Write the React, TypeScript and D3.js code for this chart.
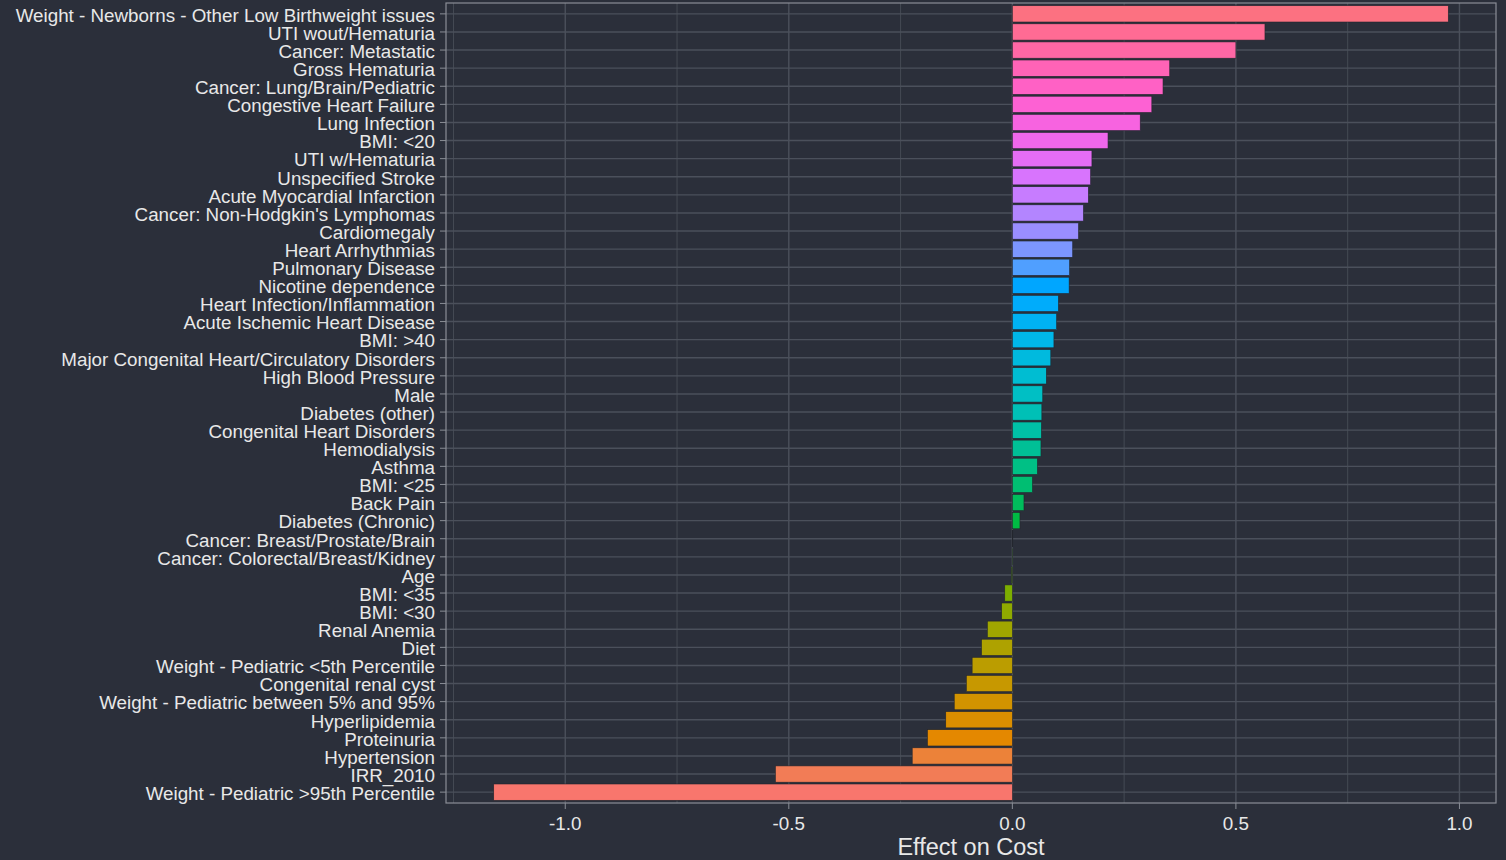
import * as d3 from "d3";

// categories from top to bottom
const categories = [
  "Weight - Newborns - Other Low Birthweight issues",
  "UTI wout/Hematuria",
  "Cancer: Metastatic",
  "Gross Hematuria",
  "Cancer: Lung/Brain/Pediatric",
  "Congestive Heart Failure",
  "Lung Infection",
  "BMI: <20",
  "UTI w/Hematuria",
  "Unspecified Stroke",
  "Acute Myocardial Infarction",
  "Cancer: Non-Hodgkin's Lymphomas",
  "Cardiomegaly",
  "Heart Arrhythmias",
  "Pulmonary Disease",
  "Nicotine dependence",
  "Heart Infection/Inflammation",
  "Acute Ischemic Heart Disease",
  "BMI: >40",
  "Major Congenital Heart/Circulatory Disorders",
  "High Blood Pressure",
  "Male",
  "Diabetes (other)",
  "Congenital Heart Disorders",
  "Hemodialysis",
  "Asthma",
  "BMI: <25",
  "Back Pain",
  "Diabetes (Chronic)",
  "Cancer: Breast/Prostate/Brain",
  "Cancer: Colorectal/Breast/Kidney",
  "Age",
  "BMI: <35",
  "BMI: <30",
  "Renal Anemia",
  "Diet",
  "Weight - Pediatric <5th Percentile",
  "Congenital renal cyst",
  "Weight - Pediatric between 5% and 95%",
  "Hyperlipidemia",
  "Proteinuria",
  "Hypertension",
  "IRR_2010",
  "Weight - Pediatric >95th Percentile",
];

const effects = [
  0.975, 0.565, 0.5, 0.352, 0.337, 0.312, 0.286, 0.214, 0.178, 0.175, 0.17,
  0.159, 0.148, 0.135, 0.128, 0.127, 0.103, 0.099, 0.093, 0.086, 0.076, 0.068,
  0.066, 0.065, 0.064, 0.056, 0.045, 0.026, 0.017, 0.001, 0.0005, -0.002,
  -0.017, -0.024, -0.056, -0.069, -0.09, -0.103, -0.13, -0.149, -0.19, -0.224,
  -0.53, -1.16,
];

const xTicks = [-1.0, -0.5, 0.0, 0.5, 1.0];
const xMinor = [-1.25, -0.75, -0.25, 0.25, 0.75];

// R's hcl() (polar LUV) -> hex, like ggplot's hue palette
function hclLuv(h: number, c: number, l: number): string {
  const XN = 95.047, YN = 100.0, ZN = 108.883;
  const hr = (h * Math.PI) / 180;
  const U = c * Math.cos(hr);
  const V = c * Math.sin(hr);
  const Y = YN * (l > 7.999592 ? Math.pow((l + 16) / 116, 3) : l / 903.3);
  const t = XN + YN + ZN;
  const x = XN / t, y = YN / t;
  const uN = (2 * x) / (6 * y - x + 1.5);
  const vN = (4.5 * y) / (6 * y - x + 1.5);
  const u = U / (13 * l) + uN;
  const v = V / (13 * l) + vN;
  const X = (9.0 * Y * u) / (4 * v);
  const Z = -X / 3 - 5 * Y + (3 * Y) / v;
  const g = (q: number) => (q > 0.00304 ? 1.055 * Math.pow(q, 1 / 2.4) - 0.055 : 12.92 * q);
  const r = g((3.240479 * X - 1.53715 * Y - 0.498535 * Z) / YN);
  const gg = g((-0.969256 * X + 1.875992 * Y + 0.041556 * Z) / YN);
  const b = g((0.055648 * X - 0.204043 * Y + 1.057311 * Z) / YN);
  const cl = (q: number) => Math.round(Math.max(0, Math.min(1, q)) * 255);
  return d3.rgb(cl(r), cl(gg), cl(b)).formatHex();
}

const W = 1506;
const H = 860;
const BG = "#2b2f3a";
const GRID = "#4b505b";
const TEXT = "#e8e8e8";
const FONT = "'Liberation Sans', Arial, sans-serif";

export default function App() {
  const left = 446, right = 1496, top = 3, bottom = 803;
  const n = categories.length;

  const lo = d3.min(effects)!;
  const hi = d3.max(effects)!;
  const pad = (hi - lo) * 0.05;
  const x = d3.scaleLinear().domain([lo - pad, hi + pad]).range([left, right]);
  const y = d3.scalePoint<string>().domain(categories).range([top, bottom]).padding(0.6);
  const barH = y.step() * 0.9;

  // fill mapped to factor level order (bottom level first)
  const hues = d3.range(n).map((i) => 15 + (i * 360) / n);
  const colorOf = (i: number) => hclLuv(hues[n - 1 - i], 100, 65);

  return (
    <div style={{ position: "fixed", left: 0, top: 0 }}>
      <svg width={W} height={H} style={{ display: "block", background: BG }} fontFamily={FONT}>
        <rect x={0} y={0} width={W} height={H} fill={BG} />
        {/* grid */}
        {xMinor.map((v) => (
          <line key={"mn" + v} x1={x(v)} x2={x(v)} y1={top} y2={bottom} stroke={GRID} strokeWidth={0.8} />
        ))}
        {xTicks.map((v) => (
          <line key={"mj" + v} x1={x(v)} x2={x(v)} y1={top} y2={bottom} stroke={GRID} strokeWidth={1.4} />
        ))}
        {categories.map((c) => (
          <line key={"hg" + c} x1={left} x2={right} y1={y(c)} y2={y(c)} stroke={GRID} strokeWidth={1.4} />
        ))}
        {/* bars */}
        {categories.map((c, i) => {
          const v = effects[i];
          const x0 = x(Math.min(0, v));
          const x1 = x(Math.max(0, v));
          return (
            <rect
              key={"b" + c}
              x={x0}
              y={y(c)! - barH / 2}
              width={Math.max(0.3, x1 - x0)}
              height={barH}
              fill={colorOf(i)}
              stroke="#23262e"
              strokeWidth={0.6}
            />
          );
        })}
        {/* panel border */}
        <rect x={left} y={top} width={right - left} height={bottom - top} fill="none" stroke="#8a8e96" strokeWidth={1.2} />
        {/* y axis */}
        {categories.map((c) => (
          <g key={"yl" + c}>
            <line x1={left - 6} x2={left} y1={y(c)} y2={y(c)} stroke="#8a8e96" strokeWidth={1} />
            <text x={left - 11} y={y(c)! + 1} dy="0.36em" textAnchor="end" fontSize={18.8} fill={TEXT}>
              {c}
            </text>
          </g>
        ))}
        {/* x axis */}
        {xTicks.map((v) => (
          <g key={"xt" + v}>
            <line x1={x(v)} x2={x(v)} y1={bottom} y2={bottom + 6} stroke="#8a8e96" strokeWidth={1} />
            <text x={x(v)} y={bottom + 27} textAnchor="middle" fontSize={18.8} fill={TEXT}>
              {v.toFixed(1)}
            </text>
          </g>
        ))}
        <text x={(left + right) / 2} y={bottom + 52} textAnchor="middle" fontSize={23.5} fill={TEXT}>
          Effect on Cost
        </text>
      </svg>
    </div>
  );
}
